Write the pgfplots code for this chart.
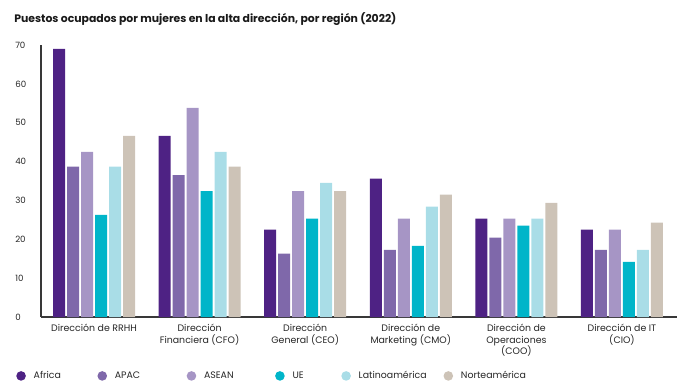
\documentclass[border=0pt]{standalone}
\usepackage{fontspec}
\setmainfont{Poppins}
\usepackage{pgfplots}
\pgfplotsset{compat=1.18}
\definecolor{cAf}{HTML}{4E2284}
\definecolor{cAP}{HTML}{7F68AA}
\definecolor{cAS}{HTML}{A695C5}
\definecolor{cUE}{HTML}{00B5C9}
\definecolor{cLA}{HTML}{A9DDE7}
\definecolor{cNA}{HTML}{CDC3B7}
\begin{document}
\begin{tikzpicture}
\useasboundingbox (-30.75pt,-54.75pt) rectangle (491.25pt,237.75pt);
\begin{axis}[
  scale only axis, width=477pt, height=204pt,
  ymin=0, ymax=70, xmin=-0.502, xmax=5.521,
  ybar=1.5pt, bar width=9pt,
  axis x line*=bottom, axis y line*=left,
  axis line style={draw=black!78, line width=0.9pt, -},
  ytick={0,10,...,70}, xtick={0,...,5},
  xticklabels={Dirección de RRHH, Dirección\\Financiera (CFO), Dirección\\General (CEO), Dirección de\\Marketing (CMO), Dirección de\\Operaciones\\(COO), Dirección de IT\\(CIO)},
  major tick length=0pt,
  tick style={draw=none},
  /pgf/number format/assume math mode=true,
  yticklabel style={anchor=west, inner sep=0pt, xshift=-19.5pt, font=\fontsize{6.5}{7}\selectfont, text=black!85},
  xticklabel style={anchor=north, align=center, inner sep=0pt, yshift=-5pt, font=\fontsize{7.05}{8.8}\selectfont, text=black!85},
  title={Puestos ocupados por mujeres en la alta dirección, por región (2022)},
  title style={at={(0,1)}, anchor=west, xshift=-20.25pt, yshift=13.6pt, inner sep=0pt, font=\bfseries\fontsize{8.15}{9.5}\selectfont, text=black!90},
  legend columns=6,
  legend style={at={(0,0)}, anchor=west, xshift=-18.75pt, yshift=-44.2pt, draw=none, fill=none, inner sep=0pt,
    font=\fontsize{7.05}{9}\selectfont, text=black!85,
    /tikz/every odd column/.append style={column sep=5.85pt},
    /tikz/every even column/.append style={column sep=0pt},
    nodes={inner sep=0pt}},
  legend cell align=left,
  legend image code/.code={\fill[#1] (3.6pt,0pt) circle (3.6pt);},
  clip=false,
]
\addplot[fill=cAf, draw=none] coordinates {(0,69) (1,46.6) (2,22.5) (3,35.6) (4,25.3) (5,22.5)};
\addlegendentry{\makebox[47.85pt][l]{Africa}}
\addplot[fill=cAP, draw=none] coordinates {(0,38.7) (1,36.5) (2,16.3) (3,17.3) (4,20.4) (5,17.3)};
\addlegendentry{\makebox[53.85pt][l]{APAC}}
\addplot[fill=cAS, draw=none] coordinates {(0,42.5) (1,53.8) (2,32.4) (3,25.3) (4,25.3) (5,22.5)};
\addlegendentry{\makebox[53.3pt][l]{ASEAN}}
\addplot[fill=cUE, draw=none] coordinates {(0,26.3) (1,32.4) (2,25.3) (3,18.3) (4,23.5) (5,14.2)};
\addlegendentry{\makebox[36.6pt][l]{UE}}
\addplot[fill=cLA, draw=none] coordinates {(0,38.7) (1,42.5) (2,34.5) (3,28.4) (4,25.3) (5,17.3)};
\addlegendentry{\makebox[63.6pt][l]{Latinoamérica}}
\addplot[fill=cNA, draw=none] coordinates {(0,46.6) (1,38.7) (2,32.4) (3,31.5) (4,29.4) (5,24.3)};
\addlegendentry{Norteamérica}
\end{axis}
\end{tikzpicture}
\end{document}
